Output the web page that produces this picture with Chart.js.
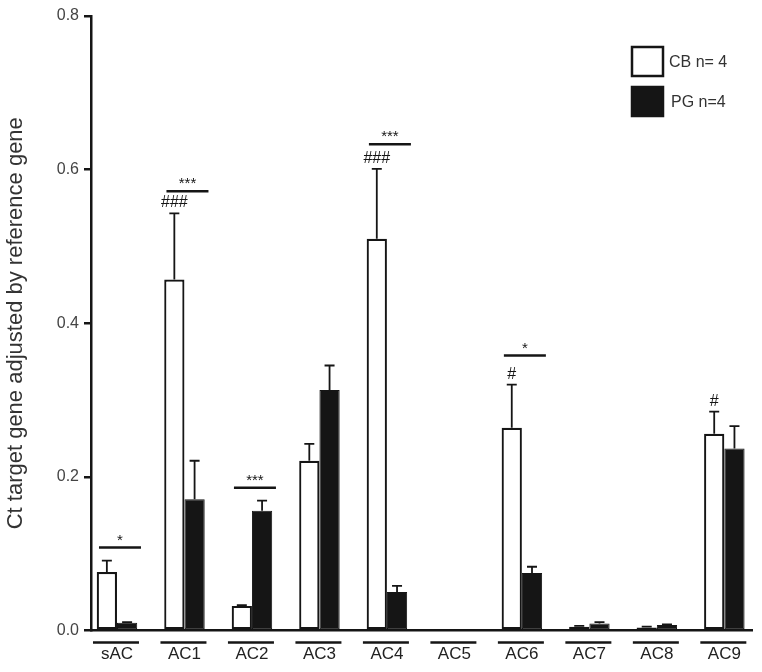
<!DOCTYPE html>
<html>
<head>
<meta charset="utf-8">
<script src="https://cdn.jsdelivr.net/npm/chart.js@4.4.1/dist/chart.umd.min.js"></script>
<style>
  html, body { margin: 0; padding: 0; background: #fff; }
  #wrap { width: 762px; height: 672px; }
</style>
</head>
<body>
<div id="wrap"><canvas id="qpcrChart" width="762" height="672"></canvas></div>
<script>
// Chart values
const categories = ['sAC', 'AC1', 'AC2', 'AC3', 'AC4', 'AC5', 'AC6', 'AC7', 'AC8', 'AC9'];
const cbMean = [0.076, 0.457, 0.032, 0.221, 0.510, 0.002, 0.264, 0.005, 0.004, 0.256];
const cbErr  = [0.015, 0.086, 0.001, 0.022, 0.091, 0.000, 0.056, 0.001, 0.001, 0.029];
const pgMean = [0.010, 0.171, 0.156, 0.313, 0.050, 0.002, 0.075, 0.009, 0.007, 0.237];
const pgErr  = [0.001, 0.050, 0.013, 0.032, 0.008, 0.000, 0.008, 0.002, 0.001, 0.029];
const yTicks = [0, 0.2, 0.4, 0.6, 0.8];

// significance marks (CB vs PG) and their bracket level, plus # marks over CB bars
const sigText  = ['*', '***', '***', '', '***', '', '*', '', '', ''];
const sigLevel = [0.108, 0.572, 0.186, null, 0.633, null, 0.358, null, null, null];
const hashText = ['', '###', '', '', '###', '', '#', '', '', '#'];

const seriesLabels = ['CB n= 4', 'PG n=4'];

Chart.defaults.font.family = "'Liberation Sans', Arial, sans-serif";
Chart.defaults.color = '#333';

const INK = '#151515';

// error bars, brackets, label underlines and legend
const extrasPlugin = {
    id: 'extras',
    afterDatasetsDraw(chart) {
        const ctx = chart.ctx;
        const xs = chart.scales.x;
        const ys = chart.scales.y;
        const errs = [cbErr, pgErr];
        const means = [cbMean, pgMean];

        ctx.save();
        ctx.strokeStyle = INK;
        ctx.fillStyle = INK;

        // error bars (upper only)
        ctx.lineWidth = 1.8;
        [0, 1].forEach(d => {
            const meta = chart.getDatasetMeta(d);
            meta.data.forEach((bar, i) => {
                if (errs[d][i] <= 0) return;
                const yTop = ys.getPixelForValue(means[d][i] + errs[d][i]);
                ctx.beginPath();
                ctx.moveTo(bar.x, bar.y);
                ctx.lineTo(bar.x, yTop);
                ctx.moveTo(bar.x - 5, yTop);
                ctx.lineTo(bar.x + 5, yTop);
                ctx.stroke();
            });
        });

        // # marks above CB error bars
        ctx.font = "16px 'Liberation Sans', Arial, sans-serif";
        ctx.textAlign = 'center';
        ctx.textBaseline = 'alphabetic';
        const cbMeta = chart.getDatasetMeta(0);
        hashText.forEach((t, i) => {
            if (!t) return;
            const yTop = ys.getPixelForValue(cbMean[i] + cbErr[i]);
            ctx.fillText(t, cbMeta.data[i].x, yTop - 6);
        });

        // significance brackets
        sigText.forEach((t, i) => {
            if (!t) return;
            const cx = xs.getPixelForValue(i) + 3;
            const y = ys.getPixelForValue(sigLevel[i]);
            ctx.lineWidth = 2.5;
            ctx.beginPath();
            ctx.moveTo(cx - 21, y);
            ctx.lineTo(cx + 21, y);
            ctx.stroke();
            ctx.font = "15px 'Liberation Sans', Arial, sans-serif";
            ctx.fillText(t, cx, y - 3);
        });

        // underline above each category label
        const area = chart.chartArea;
        ctx.lineWidth = 2.5;
        categories.forEach((c, i) => {
            const cx = xs.getPixelForValue(i) - 1;
            ctx.beginPath();
            ctx.moveTo(cx - 23, area.bottom + 12);
            ctx.lineTo(cx + 23, area.bottom + 12);
            ctx.stroke();
        });

        // legend
        const lx = area.right - 120;
        const boxes = [{ y: area.top + 31, fill: '#fff' }, { y: area.top + 71, fill: INK }];
        ctx.font = "16px 'Liberation Sans', Arial, sans-serif";
        ctx.textAlign = 'left';
        ctx.textBaseline = 'middle';
        boxes.forEach((b, k) => {
            ctx.fillStyle = b.fill;
            ctx.fillRect(lx, b.y, 31, 29);
            ctx.lineWidth = 2.5;
            ctx.strokeStyle = INK;
            ctx.strokeRect(lx, b.y, 31, 29);
            ctx.fillStyle = '#333';
            ctx.fillText(chart.data.datasets[k].label, lx + 37 + k * 2, b.y + 16);
        });
        ctx.restore();
    }
};

const ctx = document.getElementById('qpcrChart').getContext('2d');

new Chart(ctx, {
    type: 'bar',
    data: {
        datasets: [
            {
                label: seriesLabels[0],
                data: cbMean.map((v, i) => ({ x: i, y: v })),
                backgroundColor: '#fff',
                borderColor: INK,
                borderWidth: 2.2,
                borderSkipped: false,
                categoryPercentage: 0.6,
                barPercentage: 1.0
            },
            {
                label: seriesLabels[1],
                data: pgMean.map((v, i) => ({ x: i, y: v })),
                backgroundColor: INK,
                borderColor: INK,
                borderWidth: 1,
                borderSkipped: false,
                categoryPercentage: 0.6,
                barPercentage: 1.0
            }
        ]
    },
    options: {
        responsive: false,
        animation: false,
        layout: { padding: { top: 16, right: 10, bottom: 0, left: 0 } },
        plugins: {
            legend: { display: false },
            tooltip: { enabled: false }
        },
        scales: {
            x: {
                type: 'linear',
                offset: false,
                min: -0.385,
                max: 9.41,
                afterBuildTicks: s => { s.ticks = categories.map((c, i) => ({ value: i })); },
                afterFit: s => { s.height = 41.5; },
                grid: { display: false, drawTicks: false, offset: false },
                border: { display: true, color: INK, width: 2.5 },
                ticks: {
                    autoSkip: false,
                    maxRotation: 0,
                    padding: 14,
                    color: '#222',
                    font: { size: 17 },
                    callback: v => categories[v] ?? ''
                }
            },
            y: {
                min: 0,
                max: 0.8,
                afterBuildTicks: s => { s.ticks = yTicks.map(v => ({ value: v })); },
                afterFit: s => { s.width = 91; },
                grid: { drawOnChartArea: false, drawTicks: true, tickLength: 7, color: INK, lineWidth: 2.5 },
                border: { display: true, color: INK, width: 2.5 },
                ticks: {
                    padding: 5,
                    color: '#444',
                    font: { size: 16 },
                    callback: v => v.toFixed(1)
                },
                title: {
                    display: true,
                    text: 'Ct target gene adjusted by reference gene',
                    color: '#333',
                    font: { size: 22 },
                    padding: { top: 3, bottom: 0 }
                }
            }
        }
    },
    plugins: [extrasPlugin]
});
</script>
</body>
</html>
